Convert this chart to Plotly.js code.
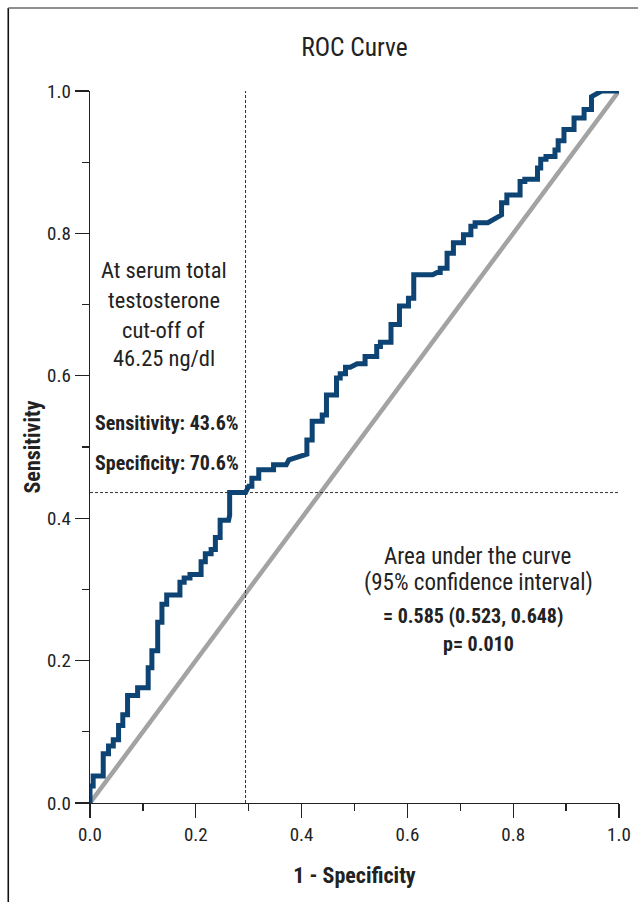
<!DOCTYPE html>
<html>
<head>
<meta charset="utf-8">
<script src="https://cdn.plot.ly/plotly-3.0.1.min.js"></script>
<style>
html,body{margin:0;padding:0;background:#fff;}
#chart{width:638px;height:902px;}
</style>
</head>
<body>
<div id="chart"></div>
<script>
// ROC curve data: 1 - specificity (false positive rate) and sensitivity
const fpr = [0,0,0.006,0.006,0.025,0.025,0.035,0.035,0.044,0.044,0.054,0.054,0.062,0.062,0.071,0.071,0.090,0.090,0.110,0.110,0.117,0.117,0.128,0.128,0.136,0.136,0.145,0.145,0.170,0.170,0.178,0.178,0.189,0.189,0.210,0.210,0.218,0.218,0.229,0.229,0.237,0.237,0.246,0.246,0.262,0.264,0.264,0.294,0.300,0.306,0.306,0.319,0.319,0.347,0.347,0.371,0.376,0.401,0.410,0.410,0.420,0.420,0.439,0.439,0.447,0.447,0.466,0.466,0.473,0.473,0.483,0.483,0.492,0.505,0.520,0.520,0.542,0.542,0.549,0.549,0.569,0.569,0.585,0.585,0.602,0.602,0.612,0.612,0.648,0.656,0.662,0.662,0.675,0.675,0.687,0.687,0.706,0.706,0.720,0.720,0.728,0.728,0.752,0.778,0.778,0.788,0.788,0.813,0.813,0.822,0.822,0.846,0.846,0.852,0.852,0.862,0.862,0.879,0.879,0.885,0.885,0.896,0.896,0.915,0.915,0.934,0.934,0.948,0.948,0.967,1.0];
const tpr = [0,0.024,0.024,0.038,0.038,0.069,0.069,0.080,0.080,0.089,0.089,0.109,0.109,0.124,0.124,0.151,0.151,0.162,0.162,0.190,0.190,0.214,0.214,0.254,0.254,0.279,0.279,0.292,0.292,0.310,0.310,0.316,0.316,0.321,0.321,0.339,0.339,0.350,0.350,0.356,0.356,0.373,0.373,0.397,0.397,0.404,0.436,0.436,0.445,0.445,0.456,0.456,0.468,0.468,0.475,0.475,0.482,0.487,0.490,0.510,0.510,0.536,0.536,0.545,0.545,0.573,0.573,0.597,0.597,0.603,0.603,0.612,0.612,0.617,0.617,0.627,0.627,0.641,0.641,0.647,0.647,0.672,0.672,0.698,0.698,0.709,0.709,0.742,0.742,0.745,0.745,0.751,0.751,0.772,0.772,0.787,0.787,0.798,0.798,0.810,0.810,0.815,0.815,0.826,0.843,0.843,0.854,0.854,0.873,0.873,0.876,0.876,0.892,0.892,0.904,0.904,0.908,0.908,0.917,0.917,0.930,0.930,0.946,0.946,0.962,0.962,0.974,0.974,0.992,1.0,1.0];

// Reference (chance) line
const refX = [0, 1];
const refY = [0, 1];

// Cut-off point (46.25 ng/dl): sensitivity 43.6%, specificity 70.6%
const cutSensitivity = 0.436;
const cutSpecificity = 0.706;
const cutFpr = 1 - cutSpecificity;

const tickVals = [0, 0.2, 0.4, 0.6, 0.8, 1.0];
const tickText = ["0.0", "0.2", "0.4", "0.6", "0.8", "1.0"];

const FONT = "'Roboto Condensed', 'Open Sans', sans-serif";
const INK = "#222222";

const traces = [
  {x: refX, y: refY, mode: "lines", line: {color: "#a3a3a3", width: 4.5}, hoverinfo: "skip", showlegend: false},
  {x: [cutFpr, cutFpr], y: [0, 1], mode: "lines", line: {color: "#333", width: 1, dash: "3px,2px"}, showlegend: false},
  {x: [0, 1], y: [cutSensitivity, cutSensitivity], mode: "lines", line: {color: "#333", width: 1, dash: "3px,2px"}, showlegend: false},
  {x: fpr, y: tpr, mode: "lines", line: {color: "#0d4473", width: 5, shape: "linear"}, showlegend: false}
];

const axisCommon = {
  range: [0, 1],
  showgrid: false,
  zeroline: false,
  showline: true,
  linecolor: INK,
  linewidth: 1.3,
  ticks: "outside",
  ticklen: 14,
  tickwidth: 1.3,
  tickcolor: INK,
  tickvals: tickVals,
  ticktext: tickText,
  tickfont: {family: FONT, size: 19, color: INK},
  minor: {ticks: "outside", ticklen: 7, tickwidth: 1.3, tickcolor: INK, dtick: 0.1, tick0: 0},
  fixedrange: true
};

const ann = (x, y, text, bold, size) => ({
  x: x, y: y, xref: "x", yref: "y", text: bold ? "<b>" + text + "</b>" : text,
  showarrow: false, xanchor: "center", yanchor: "middle",
  font: {family: FONT, size: size, color: INK}
});

const layout = {
  width: 638,
  height: 902,
  margin: {l: 89.5, r: 19, t: 91, b: 98.7},
  paper_bgcolor: "#ffffff",
  plot_bgcolor: "#ffffff",
  title: {text: "ROC Curve", font: {family: FONT, size: 25.5, color: INK}, x: 0.5, xref: "paper", y: 1 - 47/902, yref: "container", yanchor: "middle"},
  xaxis: Object.assign({}, axisCommon, {title: {text: "<b>1 - Specificity</b>", font: {family: FONT, size: 22, color: INK}, standoff: 22}}),
  yaxis: Object.assign({}, axisCommon, {title: {text: "<b>Sensitivity</b>", font: {family: FONT, size: 22, color: INK}, standoff: 0}}),
  annotations: [
    ann(0.139, 0.749, "At serum total", false, 22.5),
    ann(0.139, 0.707, "testosterone", false, 22.5),
    ann(0.139, 0.664, "cut-off of", false, 22.5),
    ann(0.139, 0.625, "46.25 ng/dl", false, 22.5),
    ann(0.146, 0.534, "Sensitivity: " + (cutSensitivity * 100).toFixed(1) + "%", true, 20),
    ann(0.146, 0.478, "Specificity: " + (cutSpecificity * 100).toFixed(1) + "%", true, 20),
    ann(0.733, 0.346, "Area under the curve", false, 23),
    ann(0.735, 0.309, "(95% confidence interval)", false, 23),
    ann(0.724, 0.262, "= 0.585 (0.523, 0.648)", true, 20),
    ann(0.734, 0.224, "p= 0.010", true, 20)
  ],
  shapes: [
    {type: "line", xref: "paper", yref: "paper", x0: -0.1545, x1: -0.1545, y0: -0.2, y1: 1.1166, line: {color: "#111", width: 1.6}},
    {type: "line", xref: "paper", yref: "paper", x0: -0.1545, x1: 1.1, y0: 1.1166, y1: 1.1166, line: {color: "#6a6a6a", width: 1.6}}
  ]
};

Plotly.newPlot("chart", traces, layout, {displayModeBar: false, staticPlot: true});
</script>
</body>
</html>
